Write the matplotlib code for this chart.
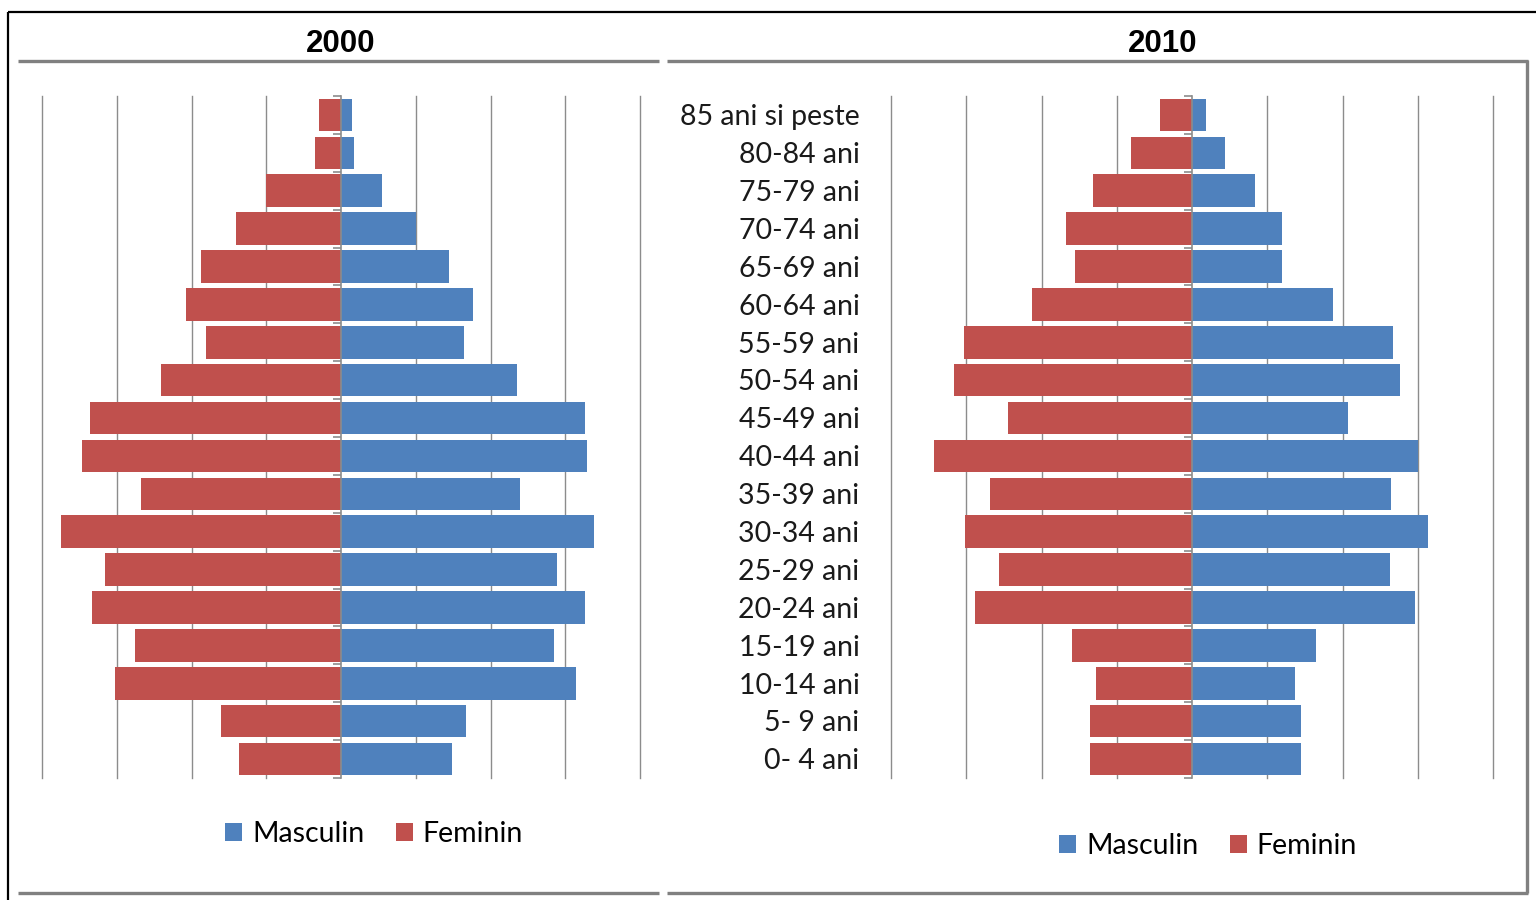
import matplotlib
matplotlib.use("Agg")
import matplotlib.pyplot as plt
from matplotlib.patches import Patch
from matplotlib.lines import Line2D

# Age groups, youngest first
age_groups = ["0- 4 ani", "5- 9 ani", "10-14 ani", "15-19 ani", "20-24 ani", "25-29 ani",
              "30-34 ani", "35-39 ani", "40-44 ani", "45-49 ani", "50-54 ani", "55-59 ani",
              "60-64 ani", "65-69 ani", "70-74 ani", "75-79 ani", "80-84 ani", "85 ani si peste"]

# Values (relative units, one unit = one gridline step)
masc_2000 = [1.48, 1.67, 3.15, 2.85, 3.27, 2.89, 3.39, 2.39, 3.29, 3.27, 2.36, 1.65,
             1.77, 1.44, 1.01, 0.55, 0.17, 0.15]
fem_2000 = [1.36, 1.60, 3.03, 2.76, 3.33, 3.16, 3.75, 2.68, 3.47, 3.36, 2.41, 1.80,
            2.07, 1.87, 1.41, 1.00, 0.35, 0.29]
masc_2010 = [1.45, 1.45, 1.37, 1.65, 2.97, 2.63, 3.13, 2.64, 3.00, 2.07, 2.77, 2.67,
             1.88, 1.20, 1.19, 0.84, 0.44, 0.19]
fem_2010 = [1.35, 1.35, 1.28, 1.59, 2.88, 2.56, 3.01, 2.68, 3.43, 2.44, 3.16, 3.03,
            2.13, 1.55, 1.67, 1.32, 0.81, 0.43]

years = ["2000", "2010"]
series_names = ["Masculin", "Feminin"]

BLUE = "#4F81BD"
RED = "#C0504D"
GRID = "#8C8C8C"
FRAME = "#808080"
LABEL_FONT = ["Lato", "DejaVu Sans"]

W, H = 1536, 900
fig = plt.figure(figsize=(W / 100, H / 100), dpi=100)


def fx(px):
    return px / W


def fy(py):
    return 1 - py / H


def fline(x0, y0, x1, y1, color, lw):
    fig.add_artist(Line2D([fx(x0), fx(x1)], [fy(y0), fy(y1)], color=color, lw=lw,
                          transform=fig.transFigure, solid_capstyle="butt"))


fline(8, 12, 1536, 12, "black", 1.6)
fline(8, 12, 8, 900, "black", 1.6)
fline(18, 60.5, 659, 60.5, FRAME, 2.4)
fline(667, 60.5, 1528, 60.5, FRAME, 2.4)
fline(1527, 60, 1527, 893, FRAME, 2.4)
fline(18, 892.5, 659, 892.5, FRAME, 2.4)
fline(667, 892.5, 1528, 892.5, FRAME, 2.4)

panels = [
    (42, 640, masc_2000, fem_2000, False, (374, 834), (341, 44.5)),
    (891, 1493, masc_2010, fem_2010, True, (1208, 846), (1163, 44.5)),
]

y = list(range(len(age_groups)))
for (x0, x1, masc, fem, show_labels, leg_c, title_c), year in zip(panels, years):
    ax = fig.add_axes([fx(x0), fy(778), fx(x1 - x0), (778 - 96) / H])
    ax.barh(y, masc, height=0.86, color=BLUE, zorder=3)
    ax.barh(y, [-v for v in fem], height=0.86, color=RED, zorder=3)
    ax.set_xlim(-4, 4)
    ax.set_ylim(-0.5, len(age_groups) - 0.5)
    for g in range(-4, 5):
        if g != 0:
            ax.axvline(g, color=GRID, lw=1.0, zorder=1, clip_on=False)
    for s in ["top", "right", "bottom"]:
        ax.spines[s].set_visible(False)
    ax.spines["left"].set_position(("data", 0))
    ax.spines["left"].set_color(GRID)
    ax.spines["left"].set_linewidth(1.2)
    ax.spines["left"].set_zorder(4)
    ax.set_xticks([])
    ax.set_yticks([i - 0.5 for i in range(len(age_groups) + 1)])
    ax.set_yticklabels([])
    ax.tick_params(axis="y", direction="out", length=6, width=1.2, color=GRID)
    ax.patch.set_alpha(0)
    if show_labels:
        for i, lab in enumerate(age_groups):
            ax.text(-4.42, i - 0.27, lab, ha="right", va="baseline", fontsize=20.5,
                    family=LABEL_FONT, color="#1a1a1a", clip_on=False)
    handles = [Patch(facecolor=BLUE, label=series_names[0]),
               Patch(facecolor=RED, label=series_names[1])]
    fig.legend(handles=handles, loc="center", bbox_to_anchor=(fx(leg_c[0]), fy(leg_c[1])),
               ncol=2, frameon=False, prop={"family": LABEL_FONT, "size": 20.5},
               handlelength=0.6, handleheight=0.6, handletextpad=0.35,
               columnspacing=1.1, borderpad=0)
    fig.text(fx(title_c[0]), fy(title_c[1]), year, ha="center", va="center",
             fontsize=22.5, fontweight="bold", family=["Liberation Sans", "DejaVu Sans"])

fig.savefig("out.png", dpi=100)
